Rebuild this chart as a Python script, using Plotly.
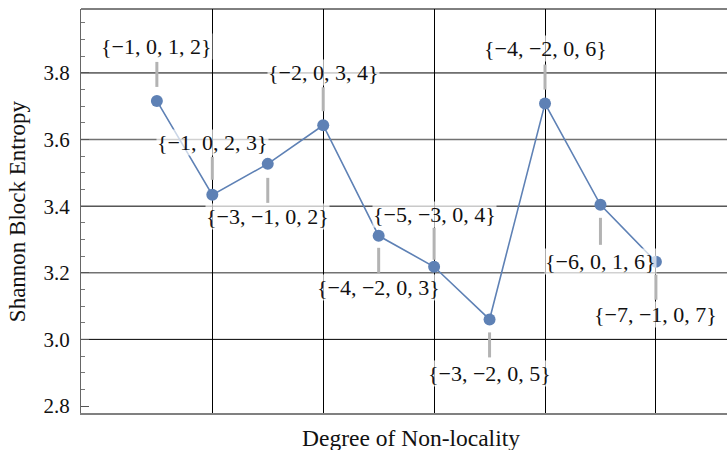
import plotly.graph_objects as go

# Shannon block entropy for each configuration, ordered by degree of non-locality
degree = [1, 2, 3, 4, 5, 6, 7, 8, 9, 10]
entropy = [3.716, 3.434, 3.527, 3.643, 3.311, 3.218, 3.060, 3.708, 3.404, 3.233]
configs = [
    "{\u22121, 0, 1, 2}",
    "{\u22121, 0, 2, 3}",
    "{\u22123, \u22121, 0, 2}",
    "{\u22122, 0, 3, 4}",
    "{\u22124, \u22122, 0, 3}",
    "{\u22125, \u22123, 0, 4}",
    "{\u22123, \u22122, 0, 5}",
    "{\u22124, \u22122, 0, 6}",
    "{\u22126, 0, 1, 6}",
    "{\u22127, \u22121, 0, 7}",
]
y_gridlines = [3.0, 3.2, 3.4, 3.6, 3.8]

# callout styling: label offset and leader span (pixels, positive = up)
label_shift = [54, 52, -53, 53, -52, 52, -54, 55, -57, -53]
leader_span = [(14, 39), (15, 38), (-14, -39), (14, 38), (-12, -37),
               (7, 39), (-13, -38), (14, 39), (-13, -40), (-13, -38)]
grid_colors = ["#000000", "#727272", "#000000", "#727272", "#000000"]
grid_widths = [1, 1.5, 1, 1.5, 1]

FONT = "Liberation Serif"
BLUE = "#5E81B5"
INK = "#111111"

fig = go.Figure()
fig.add_trace(go.Scatter(
    x=degree, y=entropy, mode="lines+markers",
    line=dict(color=BLUE, width=1.6),
    marker=dict(color=BLUE, size=12),
    hoverinfo="skip", showlegend=False,
))

shapes = []
for yv, col, w in zip(y_gridlines, grid_colors, grid_widths):
    shapes.append(dict(type="line", xref="paper", x0=0, x1=1, yref="y", y0=yv, y1=yv,
                       line=dict(color=col, width=w), layer="below"))
# top frame
shapes.append(dict(type="line", xref="paper", x0=0, x1=1, yref="paper", y0=1, y1=1,
                   line=dict(color="#000000", width=1), layer="below"))

annotations = []
for xv, yv, txt, shift, (a, b) in zip(degree, entropy, configs, label_shift, leader_span):
    shapes.append(dict(type="line", xref="x", x0=xv, x1=xv,
                       yref="y", ysizemode="pixel", yanchor=yv, y0=a, y1=b,
                       line=dict(color="#b3b3b3", width=3), layer="above"))
    annotations.append(dict(x=xv, y=yv, xref="x", yref="y", text=txt, showarrow=False,
                            xanchor="center", yanchor="middle", yshift=shift,
                            bgcolor="rgba(255,255,255,0.68)", borderpad=0,
                            font=dict(family=FONT, size=22, color=INK)))

annotations.append(dict(xref="paper", yref="paper", x=(411 - 81) / 646, y=-(438 - 412.7) / 403.7,
                        text="Degree of Non-locality", showarrow=False,
                        xanchor="center", yanchor="middle",
                        font=dict(family=FONT, size=23.5, color=INK)))
annotations.append(dict(xref="paper", yref="paper", x=-(81 - 17) / 646, y=(412.7 - 211) / 403.7,
                        text="Shannon Block Entropy", showarrow=False, textangle=-90,
                        xanchor="center", yanchor="middle",
                        font=dict(family=FONT, size=23, color=INK)))

fig.update_layout(
    width=727, height=450,
    margin=dict(l=81, r=0, t=9, b=37),
    plot_bgcolor="white", paper_bgcolor="white",
    shapes=shapes, annotations=annotations,
    xaxis=dict(range=[-0.368, 11.282], tickvals=[2, 4, 6, 8, 10], showticklabels=False,
               ticks="", showgrid=True, gridcolor="#000000", gridwidth=1, zeroline=False,
               showline=True, linecolor="#808080", linewidth=1.5),
    yaxis=dict(range=[2.779, 3.992], tick0=2.8, dtick=0.2, tickformat=".1f",
               ticks="inside", ticklen=8, tickcolor="#555555", tickwidth=1,
               minor=dict(dtick=0.05, ticks="inside", ticklen=4, tickcolor="#777777"),
               showgrid=False, zeroline=False, showline=True, linecolor="#666666",
               linewidth=1, ticklabelstandoff=6,
               tickfont=dict(family=FONT, size=21, color=INK)),
)

fig.write_html("out.html")
